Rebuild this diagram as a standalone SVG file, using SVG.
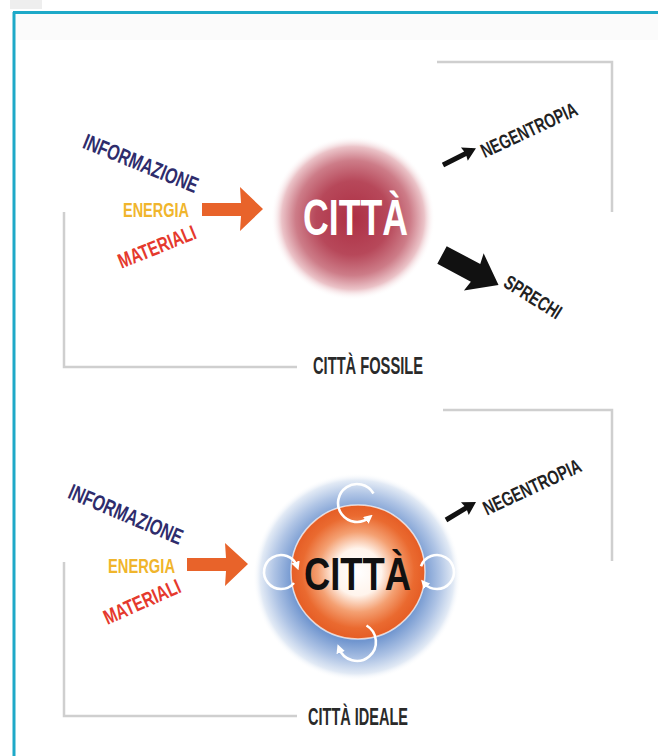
<svg xmlns="http://www.w3.org/2000/svg" width="658" height="756" viewBox="0 0 658 756">
  <defs>
    <style>
      .lbl{font-family:"Liberation Sans Narrow","Liberation Sans",Arial,sans-serif;font-weight:bold}
      .bracket{fill:none;stroke:#cfcfcf;stroke-width:2.5}
      .loop{fill:none;stroke:#ffffff;stroke-width:2.6;marker-end:url(#wh)}
    </style>
    <radialGradient id="redGlow" cx="0.5" cy="0.5" r="0.5">
      <stop offset="0" stop-color="#ad2f44"/>
      <stop offset="0.45" stop-color="#b7485a"/>
      <stop offset="0.7" stop-color="#cd7c88"/>
      <stop offset="0.87" stop-color="#ebc3c8"/>
      <stop offset="1" stop-color="#ffffff" stop-opacity="0"/>
    </radialGradient>
    <radialGradient id="blueGlow" cx="0.5" cy="0.5" r="0.5">
      <stop offset="0" stop-color="#5f87c6"/>
      <stop offset="0.62" stop-color="#7196cf"/>
      <stop offset="0.8" stop-color="#afc4e5"/>
      <stop offset="0.93" stop-color="#e2eaf5"/>
      <stop offset="1" stop-color="#ffffff" stop-opacity="0"/>
    </radialGradient>
    <radialGradient id="orangeRing" cx="0.5" cy="0.5" r="0.5">
      <stop offset="0" stop-color="#ffffff"/>
      <stop offset="0.35" stop-color="#fff4ec"/>
      <stop offset="0.6" stop-color="#f4a072"/>
      <stop offset="0.84" stop-color="#ea6a30"/>
      <stop offset="1" stop-color="#e55d25"/>
    </radialGradient>
    <marker id="wh" viewBox="0 0 10 10" refX="5" refY="5" markerWidth="3.4" markerHeight="3.4" orient="auto" markerUnits="strokeWidth">
      <path d="M0,0 L10,5 L0,10 z" fill="#ffffff"/>
    </marker>
  </defs>

  <rect x="0" y="0" width="658" height="756" fill="#ffffff"/>
  <rect x="10" y="0" width="32" height="9" fill="#eeeeee"/>
  <rect x="15" y="14" width="643" height="26" fill="#fbfbfb"/>
  <line x1="13" y1="12.5" x2="658" y2="12.5" stroke="#1ea9c8" stroke-width="3"/>
  <line x1="14" y1="12" x2="14" y2="756" stroke="#1ea9c8" stroke-width="3"/>

  <g id="brackets">
    <polyline class="bracket" points="437,62 612,62 612,212"/>
    <polyline class="bracket" points="64,212 64,367 297,367"/>
    <polyline class="bracket" points="443,410 612,410 612,561"/>
    <polyline class="bracket" points="64,562 64,716 297,716"/>
  </g>

  <!-- Top diagram: CITTA FOSSILE -->
  <g id="inputs-fossile">
    <text class="lbl" fill="#2e2c6c" font-size="22" text-anchor="middle" textLength="122" lengthAdjust="spacingAndGlyphs" transform="translate(141,163) rotate(22)" y="8">INFORMAZIONE</text>
    <text class="lbl" fill="#f0b52c" font-size="21" x="123" y="217" textLength="66" lengthAdjust="spacingAndGlyphs">ENERGIA</text>
    <text class="lbl" fill="#e5392d" font-size="21" text-anchor="middle" textLength="82" lengthAdjust="spacingAndGlyphs" transform="translate(157,247) rotate(-22)" y="7">MATERIALI</text>
  </g>

  <g id="node-citta-fossile">
    <circle cx="353" cy="218" r="82" fill="url(#redGlow)"/>
    <text class="lbl" fill="#ffffff" font-size="50" x="303" y="235" textLength="105" lengthAdjust="spacingAndGlyphs">CITTÀ</text>
  </g>

  <g id="outputs-fossile">
    <text class="lbl" fill="#222222" font-size="20" text-anchor="middle" textLength="104" lengthAdjust="spacingAndGlyphs" transform="translate(529,130) rotate(-25)" y="7">NEGENTROPIA</text>
    <text class="lbl" fill="#222222" font-size="20" text-anchor="middle" textLength="64" lengthAdjust="spacingAndGlyphs" transform="translate(533,297) rotate(32)" y="7">SPRECHI</text>
  </g>

  <g id="title-fossile">
    <text class="lbl" fill="#2a2a2a" font-size="24" x="313" y="374" textLength="110" lengthAdjust="spacingAndGlyphs">CITTÀ FOSSILE</text>
  </g>

  <!-- Bottom diagram: CITTA IDEALE -->
  <g id="inputs-ideale">
    <text class="lbl" fill="#2e2c6c" font-size="22" text-anchor="middle" textLength="122" lengthAdjust="spacingAndGlyphs" transform="translate(126,514) rotate(23)" y="8">INFORMAZIONE</text>
    <text class="lbl" fill="#f0b52c" font-size="21" x="108" y="573" textLength="67" lengthAdjust="spacingAndGlyphs">ENERGIA</text>
    <text class="lbl" fill="#e5392d" font-size="21" text-anchor="middle" textLength="82" lengthAdjust="spacingAndGlyphs" transform="translate(142,602) rotate(-24)" y="7">MATERIALI</text>
  </g>

  <g id="node-citta-ideale">
    <circle cx="357" cy="577" r="104" fill="url(#blueGlow)"/>
    <circle cx="358" cy="572" r="67" fill="url(#orangeRing)" stroke="#ffffff" stroke-opacity="0.7" stroke-width="1.5"/>
    <path class="loop" d="M373.5,493.5 A19,19 0 1 0 369.2,517.6"/>
    <path class="loop" d="M294,583 A17,17 0 1 1 297,566.2"/>
    <path class="loop" d="M421,566.2 A17,17 0 1 1 424,583"/>
    <path class="loop" d="M366.5,625.5 A19,19 0 1 1 339.1,648.5"/>
    <text class="lbl" fill="#111111" font-size="47" x="304" y="590" textLength="107" lengthAdjust="spacingAndGlyphs">CITTÀ</text>
  </g>

  <g id="outputs-ideale">
    <text class="lbl" fill="#222222" font-size="20" text-anchor="middle" textLength="106" lengthAdjust="spacingAndGlyphs" transform="translate(532,487) rotate(-25)" y="7">NEGENTROPIA</text>
  </g>

  <g id="title-ideale">
    <text class="lbl" fill="#2a2a2a" font-size="24" x="308" y="725" textLength="100" lengthAdjust="spacingAndGlyphs">CITTÀ IDEALE</text>
  </g>

  <g id="connectors">
    <polygon fill="#e8632a" points="202,203 241,203 240,187 263,209 240,231 241,216 202,216"/>
    <polygon fill="#e8632a" points="187,558 226,558 225,543 248,564 225,586 226,571 187,571"/>
    <polygon fill="#111111" transform="translate(443,165) rotate(-27)" points="0,-2.5 25,-2.5 24,-7.5 37,0 24,7.5 25,2.5 0,2.5"/>
    <polygon fill="#111111" transform="translate(446,520) rotate(-31)" points="0,-2.5 23,-2.5 22,-7.5 35,0 22,7.5 23,2.5 0,2.5"/>
    <polygon fill="#111111" transform="translate(442,255) rotate(28)" points="0,-10 38,-10 36,-21 64,0 36,21 38,10 0,10"/>
  </g>
</svg>
